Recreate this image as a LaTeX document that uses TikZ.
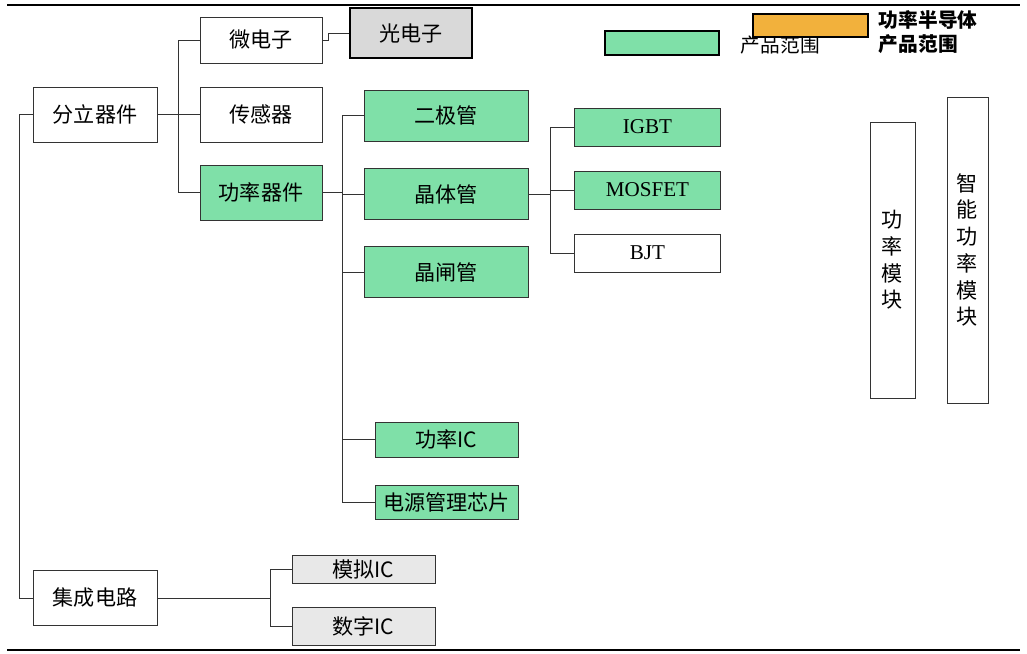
\documentclass[tikz,border=0pt]{standalone}
\usepackage{fontspec}
\setmainfont{Liberation Serif}
\newfontfamily\cjk{Noto Sans CJK SC}
\usetikzlibrary{positioning,calc}
\definecolor{PSGreen}{HTML}{7FE0A8}
\definecolor{PSOrange}{HTML}{F2B13C}
\definecolor{PSGray}{HTML}{D9D9D9}
\definecolor{PSLine}{HTML}{333333}
\tikzset{
  psbox/.style={
    rectangle,
    draw=PSLine,
    line width=0.5pt,
    fill=white,
    align=center,
    inner sep=2pt,
    font=\cjk\fontsize{15}{18}\selectfont
  },
  psgreen/.style={psbox,fill=PSGreen},
  psgray/.style={psbox,fill=PSGray,draw=black,line width=1.1pt},
  pslatin/.style={font=\fontsize{15}{18}\selectfont},
  pstall/.style={psbox,font=\cjk\fontsize{15}{19}\selectfont},
  pskey/.style={rectangle,draw=black,line width=1.1pt},
  pskeytext/.style={anchor=west,align=left,font=\cjk\fontsize{14}{16}\selectfont},
  pslink/.style={draw=PSLine,line width=0.5pt},
  psrule/.style={draw=black,line width=1.6pt},
}

\begin{document}
\begin{tikzpicture}[x=0.025cm,y=-0.025cm]
  \useasboundingbox (0,0) rectangle (1027,653);
  \draw[psrule] (7,5) -- (1020,5);
  \draw[psrule] (7,650) -- (1020,650);

  % legend
  \node[pskey,fill=PSGreen,minimum width=2.85cm,minimum height=0.6cm] (keygreen) at (662,43) {};
  \node[pskeytext] (keygreentxt) at (736,45) {产品范围};
  \node[pskey,fill=PSOrange,minimum width=2.875cm,minimum height=0.575cm] (keyorange) at (810.5,25.5) {};
  \node[pskeytext,font=\cjk\bfseries\fontsize{14}{17}\selectfont] (keyorangetxt) at (874,32) {功率半导体\\产品范围};

  % discrete devices
  \node[psbox,minimum width=3.1cm,minimum height=1.375cm] (fenli) at (95,114.5) {分立器件};
  \node[psbox,minimum width=3.05cm,minimum height=1.15cm] (weidian) at (261,40) {微电子};
  \node[psbox,minimum width=3.05cm,minimum height=1.375cm] (chuangan) at (261,114.5) {传感器};
  \node[psgreen,minimum width=3.05cm,minimum height=1.375cm] (gonglv) at (261,192.5) {功率器件};
  \node[psgray,minimum width=3.05cm,minimum height=1.25cm] (guangdianzi) at (411,33) {光电子};

  \node[psgreen,minimum width=4.1cm,minimum height=1.275cm] (erji) at (446,115.5) {二极管};
  \node[psgreen,minimum width=4.1cm,minimum height=1.275cm] (jingti) at (446,194) {晶体管};
  \node[psgreen,minimum width=4.1cm,minimum height=1.275cm] (jingzha) at (446,272) {晶闸管};

  \node[psgreen,pslatin,minimum width=3.65cm,minimum height=0.95cm] (igbt) at (647.5,127) {IGBT};
  \node[psgreen,pslatin,minimum width=3.65cm,minimum height=0.95cm] (mosfet) at (647.5,190) {MOSFET};
  \node[psbox,pslatin,minimum width=3.65cm,minimum height=0.95cm] (bjt) at (647.5,253) {BJT};

  \node[pstall,minimum width=1.125cm,minimum height=6.9cm] (mokuai) at (892.5,260) {功\\率\\模\\块};
  \node[pstall,minimum width=1.025cm,minimum height=7.65cm] (ipm) at (967.5,250) {智\\能\\功\\率\\模\\块};

  \node[psgreen,minimum width=3.575cm,minimum height=0.875cm] (gonglvic) at (446.5,439.5) {功率IC};
  \node[psgreen,minimum width=3.575cm,minimum height=0.85cm] (dianyuan) at (446.5,502) {电源管理芯片};

  % integrated circuits
  \node[psbox,minimum width=3.1cm,minimum height=1.375cm] (jicheng) at (95,598) {集成电路};
  \node[psbox,fill=PSGray!60,minimum width=3.575cm,minimum height=0.7cm] (moni) at (363.5,569) {模拟IC};
  \node[psbox,fill=PSGray!60,minimum width=3.575cm,minimum height=0.95cm] (shuzi) at (363.5,626) {数字IC};

  % connectors
  \draw[pslink] (fenli.west) -- ++(-13,0) |- (jicheng.west);
  \foreach \n in {weidian,chuangan,gonglv}
    \draw[pslink] (fenli.east) -- ++(21,0) |- (\n.west);
  \draw[pslink] (weidian.east) -- ++(6,0) |- (guangdianzi.west);
  \foreach \n in {erji,jingti,jingzha,gonglvic,dianyuan}
    \draw[pslink] (gonglv.east) -- ++(20,0) |- (\n.west);
  \foreach \n in {igbt,mosfet,bjt}
    \draw[pslink] (jingti.east) -- ++(22,0) |- (\n.west);
  \foreach \n in {moni,shuzi}
    \draw[pslink] (jicheng.east) -- ++(113,0) |- (\n.west);
\end{tikzpicture}
\end{document}
